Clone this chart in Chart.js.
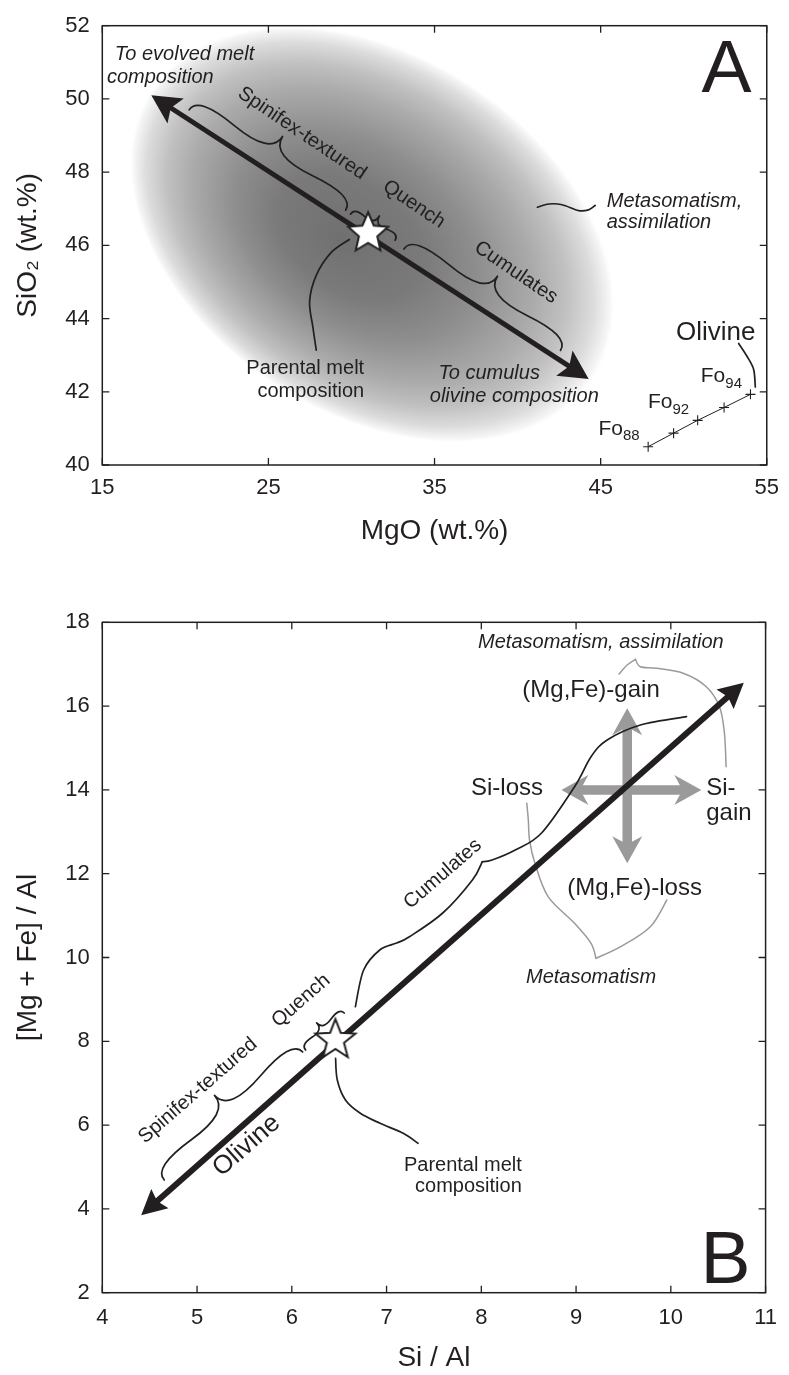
<!DOCTYPE html>
<html>
<head>
<meta charset="utf-8">
<script src="https://cdn.jsdelivr.net/npm/chart.js@4.4.1/dist/chart.umd.min.js"></script>
<style>
  html, body { margin: 0; padding: 0; background: #fff; }
  #wrap { position: relative; width: 789px; height: 1375px; overflow: hidden; }
  canvas { position: absolute; left: 0; }
</style>
</head>
<body>
<div id="wrap">
  <canvas id="panelA" width="789" height="560" style="top:0"></canvas>
  <canvas id="panelB" width="789" height="815" style="top:560px"></canvas>
</div>
<script>
// ---------- Panel A: SiO2 vs MgO (wt.%) ----------
const mgoTicks = [15, 25, 35, 45, 55];
const sio2Ticks = [40, 42, 44, 46, 48, 50, 52];
const olivineMgO = [47.86, 49.39, 50.84, 52.43, 54.02];
const olivineSiO2 = [40.50, 40.87, 41.22, 41.57, 41.93];
const olivineFo = ['88', '', '92', '', '94'];
const parentalMeltMgO = [31.0];
const parentalMeltSiO2 = [46.33];
const olivineTrendMgO = [17.95, 44.28];
const olivineTrendSiO2 = [50.10, 42.35];

// ---------- Panel B: [Mg + Fe]/Al vs Si/Al ----------
const siAlTicks = [4, 5, 6, 7, 8, 9, 10, 11];
const mgFeAlTicks = [2, 4, 6, 8, 10, 12, 14, 16, 18];
const olivineTrendSiAl = [4.41, 10.77];
const olivineTrendMgFeAl = [3.85, 16.56];
const parentalMeltSiAl = [6.46];
const parentalMeltMgFeAl = [8.03];
const siShiftSiAl = [8.845, 10.322];
const siShiftMgFeAl = [14.0, 14.0];
const mgFeShiftSiAl = [9.54, 9.54];
const mgFeShiftMgFeAl = [15.95, 12.25];

const FONT = "'Liberation Sans', Arial, Helvetica, sans-serif";
const INK = '#231f20';
const GRAY = '#9a9a9a';

const pairs = (xs, ys) => xs.map((x, i) => ({ x, y: ys[i] }));
const px = (chart, p) => [chart.scales.x.getPixelForValue(p[0]), chart.scales.y.getPixelForValue(p[1])];

// white five-pointed star used as point marker
function makeStar(R, ratio) {
  const c = document.createElement('canvas');
  const s = Math.ceil(R * 2 + 6);
  c.width = s; c.height = s;
  const g = c.getContext('2d');
  g.translate(s / 2, s / 2);
  g.beginPath();
  for (let i = 0; i < 10; i++) {
    const r = i % 2 ? R * ratio : R;
    const a = -Math.PI / 2 + i * Math.PI / 5;
    g.lineTo(r * Math.cos(a), r * Math.sin(a));
  }
  g.closePath();
  g.fillStyle = '#fff'; g.fill();
  g.lineWidth = 2; g.strokeStyle = INK; g.lineJoin = 'miter'; g.stroke();
  return c;
}

function smoothPath(ctx, pts) {
  ctx.moveTo(pts[0][0], pts[0][1]);
  for (let i = 0; i < pts.length - 1; i++) {
    const p0 = pts[i - 1] || pts[i], p1 = pts[i], p2 = pts[i + 1], p3 = pts[i + 2] || p2;
    ctx.bezierCurveTo(
      p1[0] + (p2[0] - p0[0]) / 6, p1[1] + (p2[1] - p0[1]) / 6,
      p2[0] - (p3[0] - p1[0]) / 6, p2[1] - (p3[1] - p1[1]) / 6,
      p2[0], p2[1]);
  }
}

// curly brace between two points, cusp on the left of the travel direction
function bracePath(ctx, x1, y1, x2, y2, w, q) {
  const L = Math.hypot(x2 - x1, y2 - y1);
  const ux = (x2 - x1) / L, uy = (y2 - y1) / L, nx = uy, ny = -ux;
  const P = (t, s) => [x1 + ux * L * t + nx * w * s, y1 + uy * L * t + ny * w * s];
  const tip = P(0.5, 1);
  for (const [t0, tm] of [[0, 0.25], [1, 0.75]]) {
    const a = P(t0, 0), c = P(t0, q), m = P(tm, 1 - q);
    const r = [2 * m[0] - c[0], 2 * m[1] - c[1]];
    ctx.moveTo(a[0], a[1]);
    ctx.quadraticCurveTo(c[0], c[1], m[0], m[1]);
    ctx.quadraticCurveTo(r[0], r[1], tip[0], tip[1]);
  }
}

function drawText(ctx, s, x, y, o) {
  ctx.save();
  ctx.font = `${o.italic ? 'italic ' : ''}${o.size}px ${FONT}`;
  ctx.fillStyle = o.color || INK;
  ctx.textAlign = o.align || 'center';
  ctx.textBaseline = o.baseline || (o.rot ? 'middle' : 'alphabetic');
  ctx.translate(x, y);
  if (o.rot) ctx.rotate(o.rot * Math.PI / 180);
  ctx.fillText(s, 0, 0);
  ctx.restore();
}

function arrowHead(ctx, tip, from, h, color) {
  const L = Math.hypot(tip.x - from.x, tip.y - from.y);
  const dx = (tip.x - from.x) / L, dy = (tip.y - from.y) / L;
  const bx = tip.x - dx * h.len, by = tip.y - dy * h.len;
  const nx = -dy, ny = dx;
  const kx = tip.x - dx * h.len * (1 - h.notch), ky = tip.y - dy * h.len * (1 - h.notch);
  ctx.beginPath();
  ctx.moveTo(tip.x, tip.y);
  ctx.lineTo(bx + nx * h.half, by + ny * h.half);
  ctx.lineTo(kx, ky);
  ctx.lineTo(bx - nx * h.half, by - ny * h.half);
  ctx.closePath();
  ctx.fillStyle = color;
  ctx.fill();
}

function drawInk(chart, notes) {
  const { ctx } = chart;
  ctx.save();
  ctx.strokeStyle = INK; ctx.lineWidth = 1.7; ctx.lineCap = 'round'; ctx.lineJoin = 'round';
  for (const b of notes.braces || []) {
    const [x1, y1] = px(chart, b.p1), [x2, y2] = px(chart, b.p2);
    ctx.beginPath(); bracePath(ctx, x1, y1, x2, y2, b.w, b.q || 0.6); ctx.stroke();
  }
  for (const c of notes.curves || []) {
    ctx.beginPath(); smoothPath(ctx, c.map(p => px(chart, p))); ctx.stroke();
  }
  for (const t of notes.texts || []) {
    const [x, y] = px(chart, [t.x, t.y]);
    drawText(ctx, t.t, x, y, t);
  }
  if (notes.fo) {
    const meta = chart.getDatasetMeta(notes.fo.dataset);
    notes.fo.labels.forEach((sub, i) => {
      if (!sub) return;
      const p = meta.data[i];
      ctx.fillStyle = INK; ctx.textAlign = 'left'; ctx.textBaseline = 'alphabetic';
      ctx.font = `21px ${FONT}`; const wFo = ctx.measureText('Fo').width;
      ctx.font = `15px ${FONT}`; const wSub = ctx.measureText(sub).width;
      const right = p.x - 8.5, base = p.y - 12;
      ctx.font = `21px ${FONT}`; ctx.fillText('Fo', right - wSub - wFo, base);
      ctx.font = `15px ${FONT}`; ctx.fillText(sub, right - wSub, base + 5.5);
    });
  }
  ctx.restore();
}

function notesPlugin(notes) {
  return {
    id: 'notes',
    beforeDatasetsDraw(chart) {
      const { ctx, chartArea: a } = chart;
      ctx.save();
      ctx.beginPath(); ctx.rect(a.left, a.top, a.right - a.left, a.bottom - a.top); ctx.clip();
      if (notes.blob) {
        // shaded field: elliptical radial gradient, darkest core set slightly off-centre
        const [cx, cy] = px(chart, notes.blob.center);
        const b = notes.blob;
        ctx.save();
        ctx.translate(cx, cy); ctx.rotate(b.angle * Math.PI / 180); ctx.scale(1, b.ry / b.rx);
        const g = ctx.createRadialGradient(b.core[0], b.core[1], 0, 0, 0, b.rx);
        for (const [o, c] of b.stops) g.addColorStop(o, c);
        ctx.fillStyle = g;
        ctx.beginPath(); ctx.arc(0, 0, b.rx, 0, Math.PI * 2); ctx.fill();
        ctx.restore();
      }
      ctx.strokeStyle = GRAY; ctx.lineWidth = 1.5; ctx.lineCap = 'round'; ctx.lineJoin = 'round';
      for (const c of notes.grayCurves || []) {
        ctx.beginPath(); smoothPath(ctx, c.map(p => px(chart, p))); ctx.stroke();
      }
      ctx.restore();
    },
    beforeDatasetDraw(chart, args) {
      const ds = chart.data.datasets[args.index];
      const { ctx } = chart;
      if (ds.arrowHead) {
        const pts = args.meta.data, gap = ds.arrowHead.gap;
        ctx.save();
        ctx.beginPath();
        ctx.rect(0, 0, chart.width, chart.height);
        for (const p of [pts[0], pts[pts.length - 1]]) {
          ctx.moveTo(p.x + gap, p.y);
          ctx.arc(p.x, p.y, gap, 0, Math.PI * 2, true);
        }
        ctx.clip('evenodd');
      }
      if (args.index === 0) drawInk(chart, notes);
    },
    afterDatasetDraw(chart, args) {
      const ds = chart.data.datasets[args.index];
      if (!ds.arrowHead) return;
      const { ctx } = chart;
      ctx.restore();
      const pts = args.meta.data, n = pts.length;
      arrowHead(ctx, pts[0], pts[1], ds.arrowHead, ds.borderColor);
      arrowHead(ctx, pts[n - 1], pts[n - 2], ds.arrowHead, ds.borderColor);
    },
    afterDraw(chart) {
      const { ctx, chartArea: a, scales: { x, y } } = chart;
      const T = 7;
      ctx.save();
      ctx.strokeStyle = INK; ctx.lineWidth = 1.3;
      ctx.beginPath();
      for (const t of x.ticks) {
        const p = x.getPixelForValue(t.value);
        ctx.moveTo(p, a.bottom); ctx.lineTo(p, a.bottom - T);
        ctx.moveTo(p, a.top); ctx.lineTo(p, a.top + T);
      }
      for (const t of y.ticks) {
        const p = y.getPixelForValue(t.value);
        ctx.moveTo(a.left, p); ctx.lineTo(a.left + T, p);
        ctx.moveTo(a.right, p); ctx.lineTo(a.right - T, p);
      }
      ctx.stroke();
      ctx.lineWidth = 1.5;
      ctx.strokeRect(a.left, a.top, a.right - a.left, a.bottom - a.top);
      ctx.restore();
    }
  };
}

function panelOptions(cfg) {
  const tickFont = { family: FONT, size: 22 };
  const titleFont = { family: FONT, size: 28 };
  return {
    responsive: false, animation: false, devicePixelRatio: 1, events: [],
    layout: { padding: { top: cfg.top, right: 15.7, bottom: 0, left: 0 } },
    plugins: { legend: { display: false }, tooltip: { enabled: false } },
    scales: {
      x: {
        type: 'linear', min: cfg.xTicks[0], max: cfg.xTicks[cfg.xTicks.length - 1],
        afterBuildTicks: s => { s.ticks = cfg.xTicks.map(value => ({ value })); },
        afterFit: s => { s.height = cfg.xHeight; },
        grid: { display: false, drawTicks: false }, border: { display: false },
        ticks: { color: INK, font: tickFont, padding: cfg.xPad, maxRotation: 0, autoSkip: false },
        title: { display: true, text: cfg.xTitle, color: INK, font: titleFont, padding: { top: 0, bottom: cfg.xTitlePad } }
      },
      y: {
        type: 'linear', min: cfg.yTicks[0], max: cfg.yTicks[cfg.yTicks.length - 1],
        afterBuildTicks: s => { s.ticks = cfg.yTicks.map(value => ({ value })); },
        afterFit: s => { s.width = 102.3; },
        grid: { display: false, drawTicks: false }, border: { display: false },
        ticks: { color: INK, font: tickFont, padding: 12.5, autoSkip: false },
        title: { display: true, text: cfg.yTitle, color: INK, font: titleFont, padding: { top: 11, bottom: 0 } }
      }
    }
  };
}

// ---------- Panel A ----------
const notesA = {
  blob: {
    center: [31.26, 46.30], rx: 265, ry: 180, angle: 33, core: [-25, 30],
    stops: [[0, 'rgb(112,112,112)'], [0.3, 'rgb(122,122,122)'], [0.5, 'rgb(142,142,142)'],
            [0.7, 'rgb(170,170,170)'], [0.82, 'rgb(192,192,192)'], [0.92, 'rgb(220,220,220)'],
            [0.98, 'rgb(246,246,246)'], [1, 'rgba(255,255,255,0)']]
  },
  braces: [
    { p1: [20.23, 49.70], p2: [29.65, 46.96], w: 28 },
    { p1: [29.94, 46.85], p2: [32.63, 46.14], w: 13 },
    { p1: [33.16, 45.90], p2: [42.58, 43.13], w: 28 }
  ],
  curves: [
    [[29.87, 46.16], [28.77, 45.80], [27.88, 45.18], [27.48, 44.47], [27.68, 43.76], [27.88, 43.14]],
    [[41.19, 47.04], [41.89, 47.13], [42.68, 47.11], [43.67, 46.95], [44.27, 46.97], [44.67, 47.09]],
    [[53.31, 43.32], [53.81, 42.97], [54.21, 42.61], [54.31, 42.13]]
  ],
  texts: [
    { t: 'To evolved melt', x: 15.757, y: 51.065, size: 20, italic: true, align: 'left' },
    { t: 'composition', x: 15.280, y: 50.422, size: 20, italic: true, align: 'left' },
    { t: 'Spinifex-textured', x: 27.02, y: 49.06, size: 20, rot: 34 },
    { t: 'Quench', x: 33.76, y: 47.12, size: 20, rot: 34 },
    { t: 'Cumulates', x: 39.90, y: 45.26, size: 20, rot: 34 },
    { t: 'Parental melt', x: 30.762, y: 42.479, size: 20, align: 'right' },
    { t: 'composition', x: 30.762, y: 41.860, size: 20, align: 'right' },
    { t: 'Metasomatism,', x: 45.367, y: 47.059, size: 20, italic: true, align: 'left' },
    { t: 'assimilation', x: 45.367, y: 46.464, size: 20, italic: true, align: 'left' },
    { t: 'To cumulus', x: 35.233, y: 42.346, size: 20, italic: true, align: 'left' },
    { t: 'olivine composition', x: 34.714, y: 41.727, size: 20, italic: true, align: 'left' },
    { t: 'Olivine', x: 51.924, y: 43.409, size: 26 },
    { t: 'A', x: 54.089, y: 50.183, size: 75, align: 'right' }
  ],
  fo: { dataset: 2, labels: olivineFo }
};

new Chart(document.getElementById('panelA'), {
  type: 'scatter',
  data: {
    datasets: [
      { label: 'Parental melt', data: pairs(parentalMeltMgO, parentalMeltSiO2),
        pointStyle: makeStar(21, 0.46), pointRadius: 10 },
      { label: 'Olivine control line', data: pairs(olivineTrendMgO, olivineTrendSiO2), showLine: true,
        borderColor: INK, borderWidth: 5, pointRadius: 0,
        arrowHead: { len: 29, half: 15, notch: 0.2, gap: 14 } },
      { label: 'Olivine', data: pairs(olivineMgO, olivineSiO2), showLine: true,
        borderColor: INK, borderWidth: 1, pointStyle: 'cross', pointRadius: 5,
        pointBorderColor: INK, pointBorderWidth: 1.1 }
    ]
  },
  options: panelOptions({ top: 13.3, xTicks: mgoTicks, yTicks: sio2Ticks, xHeight: 95, xPad: 10, xTitlePad: 12,
                          xTitle: 'MgO (wt.%)', yTitle: 'SiO\u2082 (wt.%)' }),
  plugins: [notesPlugin(notesA)]
});

// ---------- Panel B ----------
const notesB = {
  grayCurves: [
    [[9.453, 16.766], [9.539, 16.981], [9.627, 17.117]],
    [[9.627, 17.117], [9.679, 16.940], [9.852, 16.902], [10.131, 16.783], [10.374, 16.463], [10.514, 15.986], [10.566, 15.351], [10.583, 14.554]],
    [[8.480, 13.680], [8.496, 13.282], [8.509, 12.804], [8.566, 12.248], [8.705, 11.451], [8.984, 10.816], [9.158, 10.339], [9.210, 9.981]],
    [[9.210, 9.981], [9.471, 10.258], [9.784, 10.735], [9.957, 11.372]]
  ],
  braces: [
    { p1: [4.654, 4.690], p2: [6.115, 7.745], w: 28 },
    { p1: [6.146, 7.792], p2: [6.553, 8.675], w: 12 }
  ],
  curves: [
    [[6.671, 8.826], [6.758, 9.702], [6.928, 10.179], [7.106, 10.346], [7.241, 10.496], [7.593, 11.062], [7.906, 11.850], [8.010, 12.286]],
    [[8.010, 12.286], [8.114, 12.327], [8.358, 12.566], [8.636, 12.971], [8.984, 14.076], [9.158, 14.792], [9.328, 15.191], [9.679, 15.549], [10.165, 15.747]],
    [[6.462, 7.594], [6.480, 7.076], [6.566, 6.599], [6.723, 6.282], [6.931, 6.043], [7.176, 5.804], [7.332, 5.566]]
  ],
  texts: [
    { t: 'Metasomatism, assimilation', x: 9.262, y: 17.394, size: 20, italic: true },
    { t: '(Mg,Fe)-gain', x: 9.158, y: 16.224, size: 24 },
    { t: 'Si-loss', x: 8.271, y: 13.878, size: 24 },
    { t: 'Si-', x: 10.374, y: 13.878, size: 24, align: 'left' },
    { t: 'gain', x: 10.374, y: 13.282, size: 24, align: 'left' },
    { t: '(Mg,Fe)-loss', x: 9.618, y: 11.492, size: 24 },
    { t: 'Metasomatism', x: 9.158, y: 9.384, size: 20, italic: true },
    { t: 'Cumulates', x: 7.593, y: 11.993, size: 20, rot: -41 },
    { t: 'Quench', x: 6.097, y: 8.969, size: 20, rot: -41 },
    { t: 'Spinifex-textured', x: 5.009, y: 6.821, size: 20, rot: -41 },
    { t: 'Olivine', x: 5.523, y: 5.508, size: 26, rot: -41 },
    { t: 'Parental melt', x: 8.427, y: 4.912, size: 20, align: 'right' },
    { t: 'composition', x: 8.427, y: 4.403, size: 20, align: 'right' },
    { t: 'B', x: 10.840, y: 2.239, size: 75, align: 'right' }
  ]
};

new Chart(document.getElementById('panelB'), {
  type: 'scatter',
  data: {
    datasets: [
      { label: 'Parental melt', data: pairs(parentalMeltSiAl, parentalMeltMgFeAl),
        pointStyle: makeStar(21, 0.43), pointRadius: 10 },
      { label: 'Olivine control line', data: pairs(olivineTrendSiAl, olivineTrendMgFeAl), showLine: true,
        borderColor: INK, borderWidth: 6, pointRadius: 0,
        arrowHead: { len: 25, half: 13, notch: 0.15, gap: 12 } },
      { label: 'Si gain / loss', data: pairs(siShiftSiAl, siShiftMgFeAl), showLine: true,
        borderColor: GRAY, borderWidth: 9.5, pointRadius: 0,
        arrowHead: { len: 27, half: 15, notch: 0.3, gap: 14 } },
      { label: '(Mg,Fe) gain / loss', data: pairs(mgFeShiftSiAl, mgFeShiftMgFeAl), showLine: true,
        borderColor: GRAY, borderWidth: 9.5, pointRadius: 0,
        arrowHead: { len: 27, half: 15, notch: 0.3, gap: 14 } }
    ]
  },
  options: panelOptions({ top: 62.3, xTicks: siAlTicks, yTicks: mgFeAlTicks, xHeight: 82.3, xPad: 12, xTitlePad: 0,
                          xTitle: 'Si / Al', yTitle: '[Mg + Fe] / Al' }),
  plugins: [notesPlugin(notesB)]
});
</script>
</body>
</html>
